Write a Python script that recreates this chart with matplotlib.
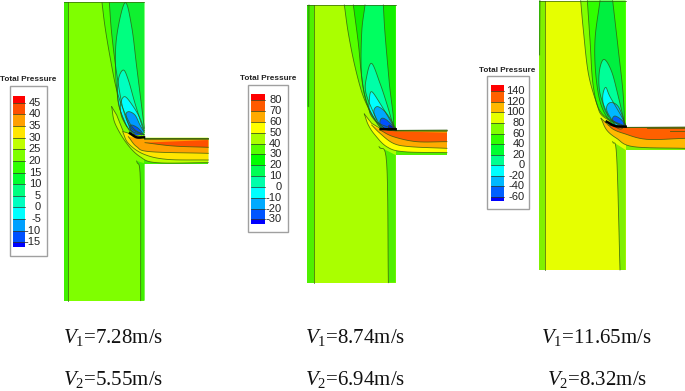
import numpy as np
import matplotlib
matplotlib.use('Agg')
import matplotlib.pyplot as plt
from matplotlib.patches import Polygon, Rectangle

plt.rcParams['mathtext.fontset'] = 'custom'
plt.rcParams['mathtext.rm'] = 'Liberation Serif'
plt.rcParams['mathtext.it'] = 'Liberation Serif:italic'

# legend values
labels1 = [45, 40, 35, 30, 25, 20, 15, 10, 5, 0, -5, -10, -15]
labels2 = [80, 70, 60, 50, 40, 30, 20, 10, 0, -10, -20, -30]
labels3 = [140, 120, 100, 80, 60, 40, 20, 0, -20, -40, -60]

colors1 = ['#ff0000', '#ff5000', '#ffa000', '#ffe600', '#c0ff00', '#7fff00', '#30ff00',
           '#00ff30', '#00ff80', '#00ffc0', '#00ffff', '#00a0ff', '#0050ff', '#0000ff']
colors2 = ['#ff0000', '#ff5a00', '#ffaa00', '#ffff00', '#aaff00', '#55ff00', '#00ff00',
           '#00ff55', '#00ffaa', '#00ffff', '#00aaff', '#0055ff', '#0000ff']
colors3 = ['#ff0000', '#ff6000', '#ffb800', '#e6ff00', '#80ff00', '#30ff00', '#00ff30',
           '#00ff90', '#00ffff', '#00b8ff', '#0060ff', '#0000ff']

speeds1 = ['7.28', '5.55']
speeds2 = ['8.74', '6.94']
speeds3 = ['11.65', '8.32']

# contour regions, in 3x crop pixels of each panel
# each one: colour, traced curve, straight points closing it along the wall
regions1 = [
    ('#7fff00', [(191, 7), (433, 7)], [(433, 902), (191, 902)]),
    ('#40f000', [(205, 7), (205, 902)], [(191, 902), (191, 7)]),
    ('#40f000', [(410, 483), (421, 540), (422, 902)], [(434, 902), (434, 490)]),
    ('#4cff00', [(306, 8), (315, 80), (330, 170), (350, 270), (375, 340), (400, 385), (433, 405)], [(433, 7)]),
    ('#10f030', [(328, 8), (335, 100), (350, 220), (370, 330), (395, 385), (433, 405)], [(433, 7)]),
    ('#00ff80', [(425, 405), (385, 385), (358, 320), (347, 220), (350, 110), (375, 8), (395, 80), (410, 200), (425, 320), (433, 385)], []),
    ('#00ffc0', [(380, 380), (355, 310), (355, 240), (370, 210), (385, 240), (405, 310), (430, 390)], []),
    ('#00ffff', [(390, 395), (365, 350), (362, 310), (375, 290), (400, 320), (420, 355), (433, 392)], []),
    ('#0098ff', [(395, 400), (378, 350), (385, 335), (405, 345), (420, 375), (433, 397)], []),
    ('#0050ff', [(405, 405), (390, 385), (395, 375), (415, 385), (432, 405)], []),
    ('#40f000', [(433, 413), (625, 413)], [(625, 492), (433, 492)]),
    ('#c0ff00', [(335, 320), (345, 370), (380, 430), (420, 470), (470, 488), (625, 488)], [(625, 413), (433, 413), (370, 395), (350, 345)]),
    ('#ffe600', [(368, 395), (385, 430), (430, 462), (500, 478), (625, 480)], [(625, 415), (433, 415)]),
    ('#ffa000', [(385, 410), (410, 440), (450, 455), (625, 460)], [(625, 418), (433, 418)]),
    ('#ff5000', [(435, 428), (520, 438), (625, 442)], [(625, 420)]),
]
regions2 = [
    ('#aaff00', [(231, 15), (497, 15)], [(497, 848), (231, 848)]),
    ('#50f000', [(253, 15), (253, 848)], [(231, 848), (231, 15)]),
    ('#30e000', [(237, 15), (236, 320)], [(231, 320), (231, 15)]),
    ('#50f000', [(447, 440), (470, 490), (475, 848)], [(497, 848), (497, 465)]),
    ('#55ff00', [(343, 15), (355, 100), (375, 200), (400, 290), (430, 350), (455, 385), (497, 390)], [(497, 15)]),
    ('#10f000', [(370, 15), (385, 130), (395, 230), (410, 310), (440, 365), (497, 388)], [(497, 15)]),
    ('#00ff60', [(405, 15), (395, 100), (395, 230), (415, 320), (450, 375), (490, 382), (478, 250), (465, 100), (460, 15)], []),
    ('#00ffa8', [(440, 360), (408, 280), (410, 230), (425, 190), (450, 250), (470, 310), (490, 378)], []),
    ('#00ffff', [(450, 380), (420, 340), (418, 300), (425, 275), (450, 310), (480, 360), (495, 385)], []),
    ('#00a8ff', [(455, 385), (432, 340), (440, 320), (460, 330), (480, 355), (497, 385)], []),
    ('#0050ff', [(465, 388), (450, 370), (455, 355), (470, 360), (497, 385)], []),
    ('#0000ff', [(475, 385), (478, 375), (495, 385)], []),
    ('#50f000', [(497, 390), (651, 390)], [(651, 465), (497, 465)]),
    ('#ffff00', [(403, 342), (415, 375), (435, 405), (470, 440), (520, 455), (651, 458)], [(651, 390), (497, 391), (450, 385), (425, 370)]),
    ('#ffaa00', [(425, 375), (450, 400), (490, 430), (540, 440), (651, 445)], [(651, 394), (497, 393), (450, 388)]),
    ('#ff5a00', [(450, 390), (490, 410), (560, 425), (651, 425)], [(651, 398), (497, 394)]),
]
regions3 = [
    ('#e6ff00', [(237, 2), (497, 2)], [(497, 810), (237, 810)]),
    ('#80f000', [(255, 2), (255, 810)], [(237, 810), (237, 2)]),
    ('#30f000', [(240, 2), (239, 165)], [(237, 165), (237, 2)]),
    ('#80f000', [(458, 425), (470, 470), (480, 810)], [(497, 810), (497, 450)]),
    ('#80ff00', [(362, 2), (370, 90), (385, 220), (410, 310), (430, 350), (497, 382)], [(497, 2)]),
    ('#30ff00', [(382, 2), (390, 120), (400, 260), (425, 340), (497, 380)], [(497, 2)]),
    ('#00f040', [(420, 2), (405, 120), (408, 230), (425, 320), (460, 375), (490, 380), (490, 290), (475, 150), (458, 2)], []),
    ('#00ff98', [(445, 350), (420, 280), (418, 215), (432, 178), (455, 215), (475, 290), (495, 375)], []),
    ('#00ffff', [(465, 375), (435, 330), (428, 290), (437, 262), (450, 290), (485, 350), (497, 378)], []),
    ('#00b8ff', [(465, 375), (440, 330), (450, 308), (475, 320), (497, 375)], []),
    ('#0060ff', [(480, 378), (458, 360), (465, 348), (485, 360), (497, 378)], []),
    ('#80f000', [(497, 380), (675, 380)], [(675, 450), (497, 450)]),
    ('#ffb800', [(423, 355), (440, 390), (470, 415), (520, 440), (675, 445)], [(675, 381), (497, 382), (445, 375)]),
    ('#ff6000', [(445, 375), (460, 388), (490, 400), (560, 418), (675, 415)], [(675, 383), (497, 383)]),
]

# contour lines that are not the edge of a traced curve
lines1 = [[(433, 413), (370, 395), (350, 345), (335, 320)],
          [(433, 415), (625, 415)], [(433, 418), (625, 418)]]
lines2 = [[(651, 390), (497, 391), (450, 385), (425, 370), (403, 342)],
          [(651, 394), (497, 393), (450, 388)]]
lines3 = [[(675, 381), (497, 382), (445, 375), (423, 355)],
          [(675, 385), (560, 385)], [(630, 393), (675, 393)]]

black1 = [(390, 400), (410, 412), (432, 412)]
black2 = [(452, 387), (497, 388)]
black3 = [(440, 365), (465, 378), (497, 380)]


def smooth(pts, n=8):
    # catmull-rom through the traced points
    pts = np.array(pts, dtype=float)
    if len(pts) < 3:
        return pts
    p = np.vstack([2*pts[0] - pts[1], pts, 2*pts[-1] - pts[-2]])
    out = []
    for i in range(1, len(p)-2):
        for t in np.linspace(0, 1, n, endpoint=False):
            out.append(0.5*(2*p[i] + (p[i+1]-p[i-1])*t
                            + (2*p[i-1]-5*p[i]+4*p[i+1]-p[i+2])*t**2
                            + (3*p[i]-p[i-1]-3*p[i+1]+p[i+2])*t**3))
    out.append(pts[-1])
    return np.array(out)


def drawField(ax, regions, lines, black, ox):
    for color, curve, close in regions:
        c = smooth(curve)
        if close:
            poly = np.vstack([c, np.array(close, dtype=float)])
        else:
            poly = c
        poly = poly/3 + [ox, 0]
        ax.add_patch(Polygon(poly, closed=True, fc=color, ec='none', zorder=2))
        c = c/3 + [ox, 0]
        ax.plot(c[:, 0], c[:, 1], color='#2f5a10', lw=0.6, alpha=0.8, zorder=3)
    for line in lines:
        c = np.array(line, dtype=float)/3 + [ox, 0]
        ax.plot(c[:, 0], c[:, 1], color='#2f5a10', lw=0.6, alpha=0.8, zorder=3.5)
    b = smooth(black)/3 + [ox, 0]
    ax.plot(b[:, 0], b[:, 1], color='black', lw=1.8, zorder=4)


def drawLegend(ax, labels, colors, box, bar, titleX, titleY, labelX):
    # box and bar are x0, x1, y0, y1
    ax.add_patch(Rectangle((box[0], box[2]), box[1]-box[0], box[3]-box[2],
                           fc='white', ec='#a0a0a0', lw=1.0, zorder=2))
    y0, y1 = bar[2], bar[3]
    n = len(labels)
    step = (y1 - y0)/n
    first = y0 + 0.6*step
    edges = [y0] + [first + i*step for i in range(n)] + [y1]
    for i, color in enumerate(colors):
        ax.add_patch(Rectangle((bar[0], edges[i]), bar[1]-bar[0], edges[i+1]-edges[i],
                               fc=color, ec='none', zorder=3))
        if i > 0:
            ax.plot([bar[0], bar[1]], [edges[i], edges[i]], color='#2f3a20', lw=0.5, zorder=4)
    for i, label in enumerate(labels):
        ax.text(labelX, edges[i+1], str(label), ha='right', va='center', fontsize=8,
                family='Liberation Sans', color='#222222', zorder=5)
    ax.text(titleX, titleY, 'Total Pressure', ha='center', va='center', fontsize=5.9,
            family='Liberation Sans', weight='bold', color='#222222', zorder=5)


def drawSpeeds(ax, speeds, x1, x2, y1=337, y2=379):
    ax.text(x1, y1, '$V_1$=%sm/s' % speeds[0], fontsize=15, family='Liberation Serif',
            ha='left', va='center', color='#111111')
    ax.text(x2, y2, '$V_2$=%sm/s' % speeds[1], fontsize=15, family='Liberation Serif',
            ha='left', va='center', color='#111111')


fig = plt.figure(figsize=(6.85, 3.91), dpi=100)
ax = fig.add_axes([0, 0, 1, 1])
ax.set_xlim(0, 685)
ax.set_ylim(391, 0)
ax.axis('off')

drawField(ax, regions1, lines1, black1, 0)
drawField(ax, regions2, lines2, black2, 230)
drawField(ax, regions3, lines3, black3, 460)

drawLegend(ax, labels1, colors1, (9.7, 47, 85.7, 255.7), (13.3, 25.3, 95.7, 247), 28.5, 79.6, 41)
drawLegend(ax, labels2, colors2, (247.7, 287.7, 84.7, 231.7), (251, 264.7, 93.7, 223.7), 267.7, 79, 281.5)
drawLegend(ax, labels3, colors3, (487.3, 529, 76, 208.7), (490.7, 504, 85, 201), 507, 70.7, 525)

drawSpeeds(ax, speeds1, 63, 63)
drawSpeeds(ax, speeds2, 305, 305)
drawSpeeds(ax, speeds3, 541, 547)

fig.savefig('out.png', dpi=100)
